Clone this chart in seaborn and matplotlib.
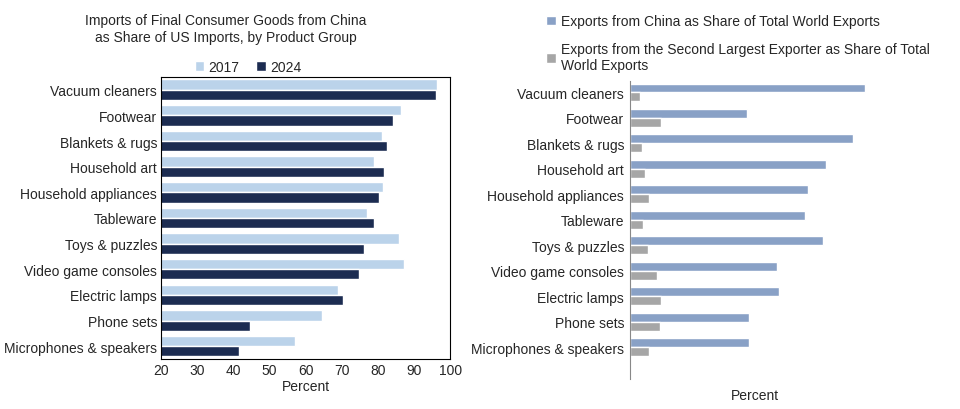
import pandas as pd
import matplotlib.pyplot as plt
import seaborn as sns

products = ["Vacuum cleaners", "Footwear", "Blankets & rugs", "Household art",
            "Household appliances", "Tableware", "Toys & puzzles",
            "Video game consoles", "Electric lamps", "Phone sets",
            "Microphones & speakers"]
imports_2017 = [96.4, 86.4, 81.2, 79.0, 81.5, 77.0, 85.9, 87.3, 69.0, 64.6, 57.0]
imports_2024 = [96.0, 84.2, 82.6, 81.7, 80.3, 79.0, 76.2, 74.8, 70.4, 44.6, 41.6]
china_share = [79.0, 39.5, 75.0, 66.0, 60.0, 59.0, 65.0, 49.5, 50.0, 40.0, 40.0]
second_share = [3.3, 10.5, 4.0, 5.0, 6.5, 4.3, 6.0, 9.0, 10.5, 10.3, 6.5]

left = pd.DataFrame({"Product": products * 2,
                     "Share": imports_2017 + imports_2024,
                     "Year": ["2017"] * len(products) + ["2024"] * len(products)})
right = pd.DataFrame({"Product": products * 2,
                      "Share": china_share + second_share,
                      "Series": ["Exports from China as Share of Total World Exports"] * len(products)
                      + ["Exports from the Second Largest Exporter as Share of Total\nWorld Exports"] * len(products)})

sns.set_style("white")
plt.rcParams["font.family"] = "Liberation Sans"
fig = plt.figure(figsize=(9.6, 4.1), dpi=100)

ax1 = fig.add_axes([0.168, 0.122, 0.301, 0.688])
sns.barplot(data=left, y="Product", x="Share", hue="Year", orient="h",
            palette=["#b3d3f2", "#13295a"], width=0.8, ax=ax1)
ax1.set_xlim(20, 100)
ax1.set_xticks(range(20, 101, 10))
ax1.set_xlabel("Percent", fontsize=10, labelpad=1)
ax1.set_ylabel("")
ax1.tick_params(axis="both", labelsize=10, length=0, pad=3)
for s in ax1.spines.values():
    s.set_color("black")
    s.set_linewidth(0.8)
ax1.legend(loc="lower center", bbox_to_anchor=(0.3, 0.99), ncol=2, frameon=False,
           fontsize=10, handlelength=0.7, handleheight=0.7, columnspacing=1.2,
           handletextpad=0.3, borderaxespad=0)
fig.text(0.235, 0.928, "Imports of Final Consumer Goods from China\nas Share of US Imports, by Product Group",
         ha="center", va="center", fontsize=10)

ax2 = fig.add_axes([0.656, 0.073, 0.31, 0.727])
sns.barplot(data=right, y="Product", x="Share", hue="Series", orient="h",
            palette=["#7f9fd0", "#a6a6a6"], width=0.7, ax=ax2)
ax2.set_xlim(0, 100)
ax2.set_ylim(11.25, -0.45)
ax2.set_xticks([])
ax2.set_xlabel("Percent", fontsize=10, labelpad=2)
ax2.xaxis.set_label_coords(0.42, -0.03)
ax2.set_ylabel("")
ax2.tick_params(axis="y", labelsize=10, length=0, pad=4)
for k in ["top", "right", "bottom"]:
    ax2.spines[k].set_visible(False)
ax2.spines["left"].set_color("#888888")
ax2.legend(loc="lower left", bbox_to_anchor=(-0.3, 1.01), frameon=False, fontsize=10,
           handlelength=0.7, handleheight=0.7, handletextpad=0.4, labelspacing=1.0,
           borderaxespad=0)

fig.savefig("out.png", dpi=100)
